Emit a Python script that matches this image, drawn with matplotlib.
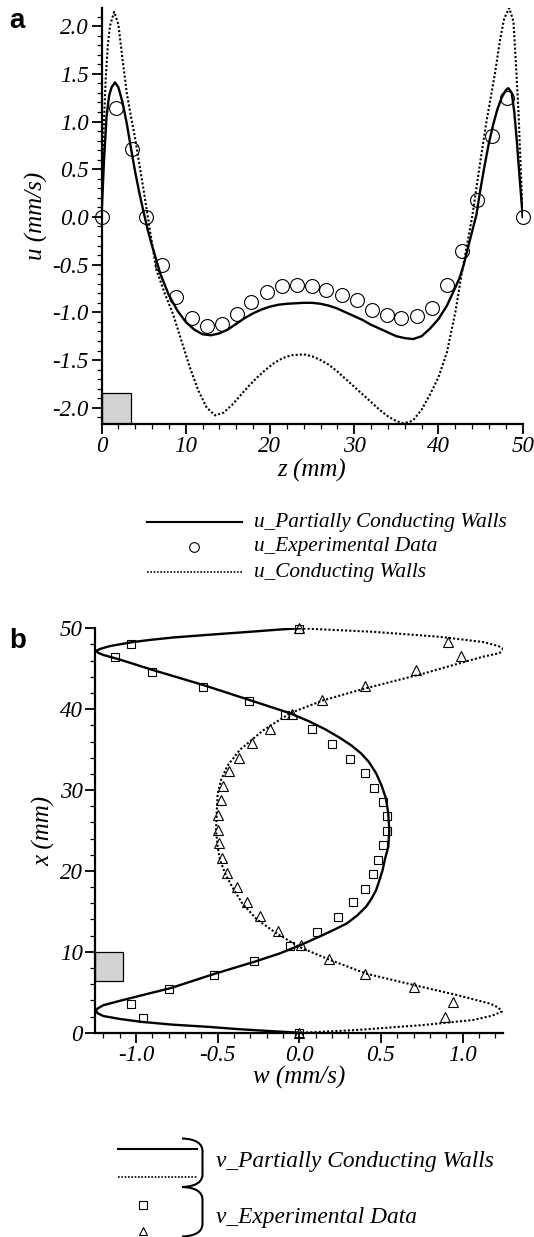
import matplotlib
matplotlib.use("Agg")
import matplotlib.pyplot as plt
from matplotlib.lines import Line2D
from matplotlib.patches import Rectangle, PathPatch
from matplotlib.path import Path
from matplotlib.ticker import MultipleLocator, FormatStrFormatter

plt.rcParams["font.family"] = "Liberation Serif"
plt.rcParams["font.style"] = "italic"
plt.rcParams["axes.unicode_minus"] = False

# ---- panel a: u profile along z ----
z_partial = [0, 0.3, 0.6, 0.9, 1.2, 1.6, 2.0, 2.5, 3.0, 3.5, 4.0, 4.5, 5.0, 5.5, 6.0,
             6.5, 7.0, 8.0, 9.0, 10.0, 11.0, 12.0, 13.0, 14.0, 15.0, 16.0, 17.0, 18.0,
             19.0, 20.0, 21.0, 22.0, 24.0, 25.0, 26.0, 27.0, 28.0, 29.0, 30.0, 31.0,
             32.0, 33.0, 34.0, 35.0, 36.0, 37.0, 38.0, 39.0, 40.0, 41.0, 42.0, 42.5,
             43.0, 44.0, 44.5, 45.0, 45.5, 46.0, 46.5, 47.0, 47.5, 48.0, 48.3, 48.7,
             49.0, 49.3, 49.6, 50.0]
u_partial = [0, 0.6, 1.05, 1.27, 1.36, 1.41, 1.36, 1.2, 0.98, 0.72, 0.47, 0.25, 0.05,
             -0.14, -0.3, -0.45, -0.6, -0.82, -0.98, -1.1, -1.18, -1.23, -1.24, -1.22,
             -1.18, -1.12, -1.06, -1.01, -0.97, -0.94, -0.92, -0.91, -0.90, -0.90,
             -0.91, -0.93, -0.96, -1.0, -1.04, -1.08, -1.13, -1.17, -1.21, -1.25, -1.27,
             -1.28, -1.25, -1.17, -1.07, -0.93, -0.74, -0.64, -0.5, -0.15, 0.02, 0.3,
             0.55, 0.78, 0.97, 1.13, 1.25, 1.33, 1.35, 1.3, 1.1, 0.8, 0.45, 0.0]

z_cond = [0, 0.25, 0.5, 0.75, 1.0, 1.5, 2.0, 2.5, 3.0, 3.5, 4.0, 4.5, 5.0, 5.5, 6.0,
          6.5, 7.5, 8.5, 9.5, 10.5, 11.5, 12.5, 13.5, 14.5, 15.5, 16.5, 17.5, 18.5,
          19.5, 20.5, 21.5, 22.5, 24.0, 25.0, 26.0, 27.0, 28.0, 29.0, 30.0, 31.0,
          32.0, 33.0, 34.0, 35.0, 35.8, 36.5, 37.0, 38.0, 39.0, 40.0, 41.0, 42.0,
          42.6, 43.0, 44.0, 45.0, 45.7, 46.7, 47.3, 47.8, 48.4, 48.9, 49.2, 49.5,
          49.75, 50.0]
u_cond = [0, 0.9, 1.45, 1.8, 2.0, 2.15, 2.02, 1.65, 1.3, 1.05, 0.82, 0.55, 0.28, 0.0,
          -0.28, -0.55, -0.8, -1.02, -1.3, -1.58, -1.82, -2.0, -2.08, -2.05, -1.97,
          -1.87, -1.77, -1.68, -1.6, -1.53, -1.48, -1.45, -1.44, -1.46, -1.5, -1.55,
          -1.62, -1.7, -1.78, -1.86, -1.94, -2.02, -2.09, -2.14, -2.16, -2.15, -2.13,
          -2.02, -1.86, -1.68, -1.42, -1.0, -0.68, -0.48, 0.0, 0.6, 1.0, 1.5, 1.85,
          2.08, 2.19, 2.05, 1.6, 1.1, 0.55, 0.0]

z_exp = [0, 1.74, 3.64, 5.34, 7.2, 8.9, 10.7, 12.5, 14.3, 16.1, 17.8, 19.6, 21.4, 23.2,
         25.0, 26.7, 28.5, 30.3, 32.1, 33.9, 35.6, 37.5, 39.2, 41.0, 42.8, 44.6, 46.4,
         48.1, 50.0]
u_exp = [0, 1.14, 0.71, 0.0, -0.5, -0.84, -1.06, -1.14, -1.12, -1.02, -0.89, -0.79,
         -0.72, -0.71, -0.72, -0.77, -0.82, -0.87, -0.97, -1.03, -1.06, -1.04, -0.95,
         -0.71, -0.36, 0.18, 0.85, 1.25, 0.0]

# ---- panel b: w profile along x ----
x_partial = [50.0, 49.85, 49.57, 49.28, 48.87, 48.55, 48.3, 47.8, 47.45, 47.2, 46.95,
             46.7, 46.2, 45.5, 44.8, 43.0, 41.1, 39.5, 38.5, 37.5, 36.5, 35.5, 34.5,
             33.5, 32.1, 30.5, 29.0, 27.1, 25.0, 23.0, 21.5, 20.1, 18.8, 17.6, 16.5,
             15.6, 14.5, 13.5, 12.8, 12.1, 11.4, 10.8, 9.8, 8.8, 7.3, 5.5, 4.7, 4.04,
             3.4, 3.0, 2.7, 2.4, 2.06, 1.7, 1.36, 1.0, 0.74, 0.45, 0.25, 0.1, 0.0]
w_partial = [0.0, -0.12, -0.30, -0.50, -0.77, -0.92, -1.02, -1.16, -1.22, -1.245,
             -1.23, -1.20, -1.11, -1.0, -0.89, -0.59, -0.30, -0.057, 0.06, 0.16,
             0.245, 0.32, 0.38, 0.425, 0.47, 0.505, 0.53, 0.545, 0.551, 0.545, 0.525,
             0.51, 0.49, 0.47, 0.44, 0.41, 0.355, 0.29, 0.22, 0.147, 0.07, 0.004,
             -0.12, -0.27, -0.516, -0.79, -0.95, -1.08, -1.20, -1.235, -1.245, -1.235,
             -1.20, -1.10, -0.975, -0.78, -0.57, -0.38, -0.22, -0.09, 0.0]

x_cond = [50.0, 49.57, 48.95, 48.3, 47.8, 47.3, 46.9, 46.5, 45.5, 44.4, 42.6, 41.1,
          39.5, 37.4, 35.0, 33.0, 31.2, 29.5, 27.5, 25.0, 23.0, 21.3, 19.5, 18.0,
          16.0, 14.0, 12.3, 10.6, 9.0, 7.3, 5.9, 4.66, 3.6, 3.1, 2.6, 2.1, 1.57, 0.95,
          0.33, 0.1, 0.0]
w_cond = [0.0, 0.45, 0.86, 1.127, 1.22, 1.26, 1.22, 1.127, 0.95, 0.76, 0.41, 0.147,
          -0.057, -0.22, -0.363, -0.44, -0.48, -0.5, -0.505, -0.51, -0.5, -0.485,
          -0.45, -0.41, -0.35, -0.26, -0.14, 0.0, 0.188, 0.41, 0.70, 0.964, 1.168,
          1.22, 1.24, 1.18, 1.065, 0.76, 0.35, 0.12, 0.0]

x_sq = [49.9, 48.1, 46.4, 44.6, 42.8, 41.0, 39.3, 37.5, 35.7, 33.9, 32.1, 30.3, 28.5,
        26.8, 25.0, 23.2, 21.4, 19.6, 17.8, 16.1, 14.3, 12.5, 10.75, 8.9, 7.1, 5.4,
        3.6, 1.8, 0.0]
w_sq = [0.0, -1.03, -1.13, -0.9, -0.59, -0.31, -0.09, 0.08, 0.2, 0.31, 0.40, 0.46,
        0.51, 0.535, 0.54, 0.51, 0.48, 0.45, 0.405, 0.33, 0.24, 0.11, -0.06, -0.28,
        -0.52, -0.80, -1.03, -0.96, 0.0]

x_tri = [50.0, 48.3, 46.6, 44.8, 42.9, 41.1, 39.4, 37.6, 35.8, 34.0, 32.3, 30.5, 28.8,
         26.9, 25.1, 23.4, 21.6, 19.8, 18.0, 16.2, 14.4, 12.6, 10.8, 9.1, 7.3, 5.6,
         3.8, 2.0, 0.0]
w_tri = [0.0, 0.91, 0.99, 0.715, 0.40, 0.14, -0.045, -0.18, -0.29, -0.37, -0.43,
         -0.47, -0.48, -0.5, -0.5, -0.49, -0.475, -0.44, -0.38, -0.32, -0.24, -0.13,
         0.01, 0.18, 0.405, 0.70, 0.94, 0.89, 0.0]

legend_a = ["u_Partially Conducting Walls", "u_Experimental Data", "u_Conducting Walls"]
legend_b = ["v_Partially Conducting Walls", "v_Experimental Data"]

W, H = 534, 1237
fig = plt.figure(figsize=(W / 100, H / 100), dpi=100)


def fx(px):
    return px / W


def fy(py):
    return 1 - py / H


def style_axes(ax):
    for s in ["top", "right"]:
        ax.spines[s].set_visible(False)
    for s in ["left", "bottom"]:
        ax.spines[s].set_linewidth(1.6)
    ax.tick_params(which="major", length=7, width=1.3, labelsize=16.5, pad=2)
    ax.tick_params(which="minor", length=3.5, width=0.9)
    for lab in ax.get_xticklabels() + ax.get_yticklabels():
        lab.set_fontstyle("italic")


dotted = (0, (1, 1))

# panel a
ax1 = fig.add_axes([fx(101.5), fy(424), fx(421.2), 416 / H])
ax1.plot(z_partial, u_partial, color="black", lw=1.7, zorder=3)
ax1.plot(z_cond, u_cond, color="black", lw=1.5, ls=dotted, zorder=3)
ax1.plot(z_exp, u_exp, ls="none", marker="o", ms=10, mfc="none", mec="black",
         mew=0.8, clip_on=False, zorder=4)
ax1.add_patch(Rectangle((0, -2.17), 3.5, 0.32, facecolor="#d3d3d3",
                        edgecolor="black", lw=0.9, zorder=2))
ax1.set_xlim(0, 50)
ax1.set_ylim(-2.17, 2.19)
ax1.xaxis.set_major_locator(MultipleLocator(10))
ax1.xaxis.set_minor_locator(MultipleLocator(2))
ax1.yaxis.set_major_locator(MultipleLocator(0.5))
ax1.yaxis.set_minor_locator(MultipleLocator(0.1))
ax1.yaxis.set_major_formatter(FormatStrFormatter("%.1f"))
ax1.set_xlabel("z (mm)", fontsize=18, labelpad=1)
ax1.set_ylabel("u (mm/s)", fontsize=18, labelpad=3)
style_axes(ax1)

# panel b
ax2 = fig.add_axes([fx(95.2), fy(1032.7), fx(408.2), 404.4 / H])
ax2.plot(w_partial, x_partial, color="black", lw=1.7, zorder=3)
ax2.plot(w_cond, x_cond, color="black", lw=1.5, ls=dotted, zorder=3)
ax2.plot(w_sq, x_sq, ls="none", marker="s", ms=6, mfc="none", mec="black",
         mew=0.8, clip_on=False, zorder=4)
ax2.plot(w_tri, x_tri, ls="none", marker="^", ms=7, mfc="none", mec="black",
         mew=0.8, clip_on=False, zorder=4)
ax2.add_patch(Rectangle((-1.25, 6.4), 0.17, 3.6, facecolor="#d3d3d3",
                        edgecolor="black", lw=0.9, zorder=2))
ax2.set_xlim(-1.25, 1.25)
ax2.set_ylim(0, 50)
ax2.xaxis.set_major_locator(MultipleLocator(0.5))
ax2.xaxis.set_minor_locator(MultipleLocator(0.1))
ax2.xaxis.set_major_formatter(FormatStrFormatter("%.1f"))
ax2.yaxis.set_major_locator(MultipleLocator(10))
ax2.yaxis.set_minor_locator(MultipleLocator(2))
ax2.set_xlabel("w (mm/s)", fontsize=18, labelpad=0)
ax2.set_ylabel("x (mm)", fontsize=18, labelpad=3)
style_axes(ax2)

# panel letters
fig.text(fx(9.5), fy(28), "a", fontsize=20, fontweight="bold",
         family="Liberation Sans", style="normal", va="baseline")
fig.text(fx(9.5), fy(648), "b", fontsize=20, fontweight="bold",
         family="Liberation Sans", style="normal", va="baseline")

# legend a
fig.add_artist(Line2D([fx(146.5), fx(242)], [fy(522), fy(522)], color="black", lw=1.5))
fig.add_artist(Line2D([fx(194)], [fy(547.5)], marker="o", ms=7, mfc="none",
                      mec="black", mew=0.8))
fig.add_artist(Line2D([fx(146.5), fx(242)], [fy(572), fy(572)], color="black",
                      lw=1.2, ls=dotted))
for i, lab in enumerate(legend_a):
    fig.text(fx(254), fy(522 + 25 * i), lab, fontsize=15.3, va="center", ha="left")

# legend b
fig.add_artist(Line2D([fx(118), fx(197)], [fy(1149), fy(1149)], color="black", lw=1.5))
fig.add_artist(Line2D([fx(118), fx(197)], [fy(1176.5), fy(1176.5)], color="black",
                      lw=1.2, ls=dotted))
fig.add_artist(Line2D([fx(143)], [fy(1205)], marker="s", ms=5.5, mfc="none",
                      mec="black", mew=0.8))
fig.add_artist(Line2D([fx(143)], [fy(1231)], marker="^", ms=6, mfc="none",
                      mec="black", mew=0.8))


def bracket(y0, y1):
    xl, xr = 182, 202.5
    verts = [(xl, y0), (196, y0 + 0.5), (xr, y0 + 5), (xr, y0 + 13),
             (xr, y1 - 13), (xr, y1 - 5), (196, y1 - 0.5), (xl, y1)]
    codes = [Path.MOVETO, Path.CURVE4, Path.CURVE4, Path.CURVE4,
             Path.LINETO, Path.CURVE4, Path.CURVE4, Path.CURVE4]
    verts = [(fx(a), fy(b)) for a, b in verts]
    fig.add_artist(PathPatch(Path(verts, codes), fill=False, lw=1.5,
                             edgecolor="black", transform=fig.transFigure))


bracket(1138.5, 1187)
bracket(1187, 1236.5)
fig.text(fx(216), fy(1162), legend_b[0], fontsize=16.8, va="center", ha="left")
fig.text(fx(216), fy(1217), legend_b[1], fontsize=16.8, va="center", ha="left")

fig.savefig("out.png", dpi=100)
